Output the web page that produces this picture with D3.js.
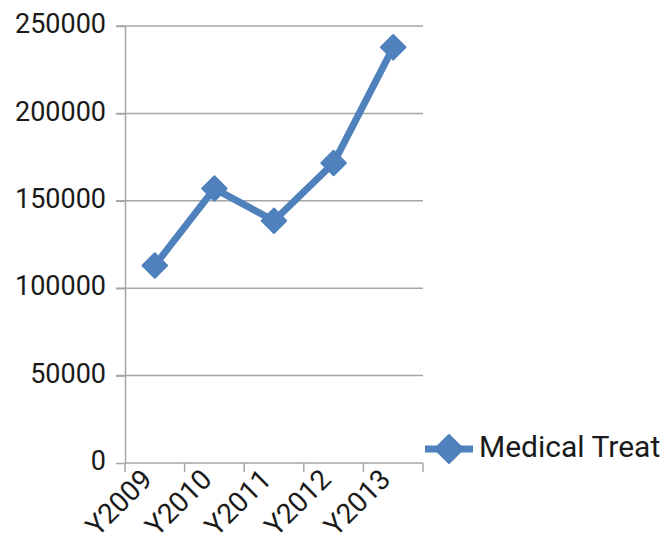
<!DOCTYPE html>
<html>
<head>
<meta charset="utf-8">
<script src="https://cdn.jsdelivr.net/npm/d3@7"></script>
<style>
  body { margin: 0; background: #fff; }
  text { font-family: Roboto, "Liberation Sans", sans-serif; fill: #1a1a1a; }
</style>
</head>
<body>
<svg width="665" height="541"></svg>
<script>
// Chart data
const categories = ["Y2009", "Y2010", "Y2011", "Y2012", "Y2013"];
const values = [113000, 157000, 138600, 171600, 237800];
const yTicks = [0, 50000, 100000, 150000, 200000, 250000];
const seriesName = "Medical Treat";

const svg = d3.select("svg");
const color = "#4f81bd";
const gridColor = "#a6a6a6";

// Plot area
const plotLeft = 125, plotRight = 423, plotTop = 26, plotBottom = 463;

const x = d3.scaleBand().domain(categories).range([plotLeft, plotRight]);
const y = d3.scaleLinear().domain([0, 250000]).range([plotBottom, plotTop]);

// Gridlines
svg.append("g")
    .selectAll("line")
    .data(yTicks.filter(d => d > 0))
    .enter().append("line")
    .attr("x1", plotLeft - 9).attr("x2", plotRight)
    .attr("y1", d => y(d)).attr("y2", d => y(d))
    .attr("stroke", gridColor).attr("stroke-width", 1.5);

// Y axis
const yAxis = svg.append("g")
    .attr("transform", `translate(${plotLeft},0)`)
    .call(d3.axisLeft(y).tickValues(yTicks).tickSize(9).tickSizeOuter(0).tickFormat(d3.format("d")));
yAxis.select(".domain").attr("stroke", gridColor).attr("stroke-width", 1.5);
yAxis.selectAll(".tick line").attr("stroke", gridColor).attr("stroke-width", 1.5);
yAxis.selectAll(".tick text")
    .attr("x", -19)
    .attr("dy", "0.25em")
    .style("font-size", "27px")
    .attr("fill", "#1a1a1a");

// X axis (ticks between categories)
const xAxis = svg.append("g")
    .attr("transform", `translate(0,${plotBottom})`);
xAxis.append("line")
    .attr("x1", plotLeft).attr("x2", plotRight)
    .attr("stroke", gridColor).attr("stroke-width", 1.5);
const bounds = categories.map(c => x(c)).concat([x(categories[categories.length - 1]) + x.bandwidth()]);
xAxis.selectAll("line.tk")
    .data(bounds)
    .enter().append("line")
    .attr("class", "tk")
    .attr("x1", d => d).attr("x2", d => d)
    .attr("y1", 0).attr("y2", 9)
    .attr("stroke", gridColor).attr("stroke-width", 1.5);
xAxis.selectAll("text")
    .data(categories)
    .enter().append("text")
    .attr("transform", d => `translate(${x(d) + x.bandwidth() / 2 - 1},18) rotate(-45)`)
    .attr("text-anchor", "end")
    .style("font-size", "28px")
    .text(d => d);

// Line
const line = d3.line()
    .x((d, i) => x(categories[i]) + x.bandwidth() / 2)
    .y(d => y(d));
svg.append("path")
    .datum(values)
    .attr("d", line)
    .attr("fill", "none")
    .attr("stroke", color)
    .attr("stroke-width", 7)
    .attr("stroke-linejoin", "round");

// Diamond markers
const diamond = d3.symbol().type(d3.symbolSquare).size(300);
svg.append("g")
    .selectAll("path")
    .data(values)
    .enter().append("path")
    .attr("d", diamond)
    .attr("transform", (d, i) => `translate(${x(categories[i]) + x.bandwidth() / 2},${y(d)}) rotate(45)`)
    .attr("fill", color)
    .attr("stroke", color)
    .attr("stroke-width", 2)
    .attr("stroke-linejoin", "round");

// Legend
const legend = svg.append("g").attr("transform", "translate(425,449)");
legend.append("line")
    .attr("x1", 0).attr("x2", 48)
    .attr("stroke", color).attr("stroke-width", 7);
legend.append("path")
    .attr("d", d3.symbol().type(d3.symbolSquare).size(400))
    .attr("transform", "translate(24,0) rotate(45)")
    .attr("fill", color)
    .attr("stroke", color)
    .attr("stroke-width", 2)
    .attr("stroke-linejoin", "round");
legend.append("text")
    .attr("x", 54)
    .attr("y", 8)
    .style("font-size", "30px")
    .text(seriesName);
</script>
</body>
</html>
